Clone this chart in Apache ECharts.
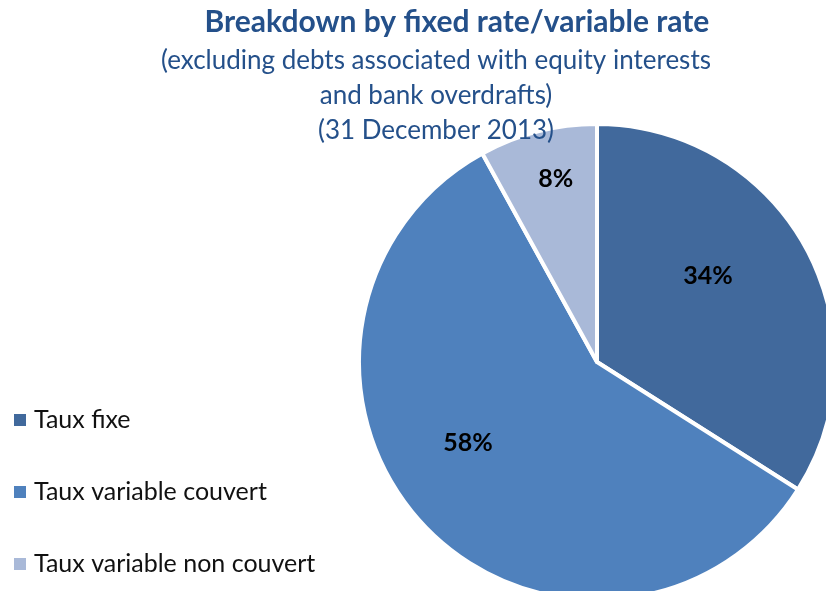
<!DOCTYPE html>
<html>
<head>
<meta charset="utf-8">
<script src="https://cdn.jsdelivr.net/npm/echarts@6/dist/echarts.min.js"></script>
<style>
html,body{margin:0;padding:0;background:#fff;}
#chart{width:826px;height:591px;}
</style>
</head>
<body>
<div id="chart"></div>
<script>
// categories and values
var categories = ["Taux fixe", "Taux variable couvert", "Taux variable non couvert"];
var values = [34, 58, 8];
var colors = ["#41699C", "#4F81BD", "#A9B9D8"];
// label nudges to match the original placement
var labelOffsets = [[4, -27], [-40, -3], [-11, -65]];

var titleText = "Breakdown by fixed rate/variable rate";
var subText = "(excluding debts associated with equity interests\nand bank overdrafts)\n(31 December 2013)";

var pieData = [];
for (var i = 0; i < categories.length; i++) {
    pieData.push({
        name: categories[i],
        value: values[i],
        itemStyle: {color: colors[i]},
        label: {offset: labelOffsets[i]}
    });
}

var chart = echarts.init(document.getElementById("chart"));
chart.setOption({
    animation: false,
    title: [{
        text: titleText,
        left: 457,
        textAlign: "center",
        top: 5,
        padding: 0,
        textStyle: {
            fontFamily: "Lato",
            fontSize: 30,
            fontWeight: "bold",
            color: "#24508A",
            lineHeight: 34
        }
    }, {
        text: subText,
        left: 436,
        textAlign: "center",
        top: 43,
        padding: 0,
        textStyle: {
            fontFamily: "Lato",
            fontSize: 26,
            fontWeight: "normal",
            color: "#24508A",
            lineHeight: 35,
            align: "center"
        }
    }],
    legend: {
        orient: "vertical",
        left: 12,
        top: 407,
        padding: 0,
        itemWidth: 14,
        itemHeight: 14,
        itemGap: 46,
        icon: "rect",
        selectedMode: false,
        data: categories,
        textStyle: {
            fontFamily: "Lato",
            fontSize: 25,
            color: "#111",
            lineHeight: 26,
            padding: [0, 0, 0, 2]
        }
    },
    series: [{
        type: "pie",
        center: [597, 362],
        radius: 238,
        startAngle: 90,
        clockwise: true,
        data: pieData,
        itemStyle: {borderColor: "#fff", borderWidth: 4},
        label: {
            show: true,
            position: "inside",
            formatter: "{c}%",
            fontFamily: "Lato",
            fontSize: 25,
            fontWeight: "bold",
            color: "#000"
        },
        labelLine: {show: false},
        emphasis: {disabled: true}
    }]
});
</script>
</body>
</html>
